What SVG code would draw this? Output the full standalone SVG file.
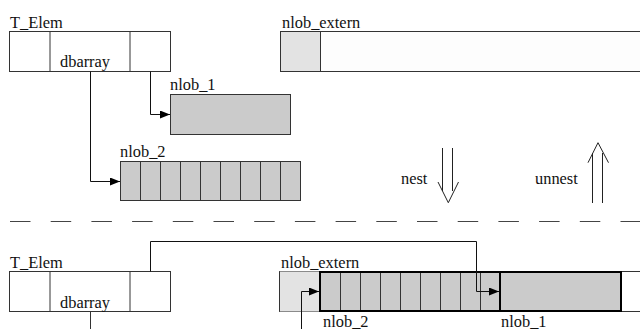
<svg xmlns="http://www.w3.org/2000/svg" width="640" height="329" viewBox="0 0 640 329">
<defs>
<style>
.box{stroke:#333;stroke-width:1;fill:#fff}
.lt{stroke:#333;stroke-width:1;fill:#e3e3e3}
.gr{stroke:#333;stroke-width:1;fill:#cbcbcb}
.thick{stroke:#000;stroke-width:2;fill:none}
.ln{stroke:#333;stroke-width:1;fill:none}
.conn{stroke:#111;stroke-width:1;fill:none;marker-end:url(#ah)}
.big{stroke:#222;stroke-width:1;fill:none}
</style>
<marker id="ah" markerWidth="10" markerHeight="8" refX="10" refY="4" orient="auto" markerUnits="userSpaceOnUse">
<path d="M0,0 L10,4 L0,8 Z" fill="#000"/>
</marker>
</defs>
<g font-family="'Liberation Serif', 'Times New Roman', serif" font-size="16.4" fill="#111">

<g id="top-telem">
<rect class="box" x="9.5" y="31.5" width="161" height="40"/>
<line class="ln" x1="50" y1="31.5" x2="50" y2="71.5"/>
<line class="ln" x1="130" y1="31.5" x2="130" y2="71.5"/>
<text x="10" y="28">T_Elem</text>
<text x="60" y="67">dbarray</text>
</g>

<g id="top-nlob-extern">
<rect class="box" x="280.5" y="31.5" width="400" height="40" style="fill:#fdfdfd"/>
<rect class="lt" x="280.5" y="31.5" width="40" height="40"/>
<text x="282" y="28">nlob_extern</text>
</g>

<g id="top-nlob1">
<rect class="gr" x="170.5" y="94.5" width="120" height="40"/>
<text x="170" y="90">nlob_1</text>
</g>

<g id="top-nlob2">
<rect class="gr" x="120.5" y="161.5" width="180" height="39"/>
<path class="ln" d="M140.5,161.5V200.5M160.5,161.5V200.5M180.5,161.5V200.5M200.5,161.5V200.5M220.5,161.5V200.5M240.5,161.5V200.5M260.5,161.5V200.5M280.5,161.5V200.5"/>
<text x="120" y="157">nlob_2</text>
</g>

<g id="nest">
<text x="401" y="184">nest</text>
<path class="big" d="M442.5,148V191M452.5,148V191M438,182L448.3,202.7L458.5,182"/>
</g>

<g id="unnest">
<text x="535" y="184">unnest</text>
<path class="big" d="M592.5,203V153M602.5,203V153M588,162.7L598,142.7L608.5,162.7"/>
</g>

<g id="separator">
<line x1="10" y1="221.5" x2="640" y2="221.5" stroke="#444" stroke-width="1.2" stroke-dasharray="20.5 20.2"/>
</g>

<g id="bottom-telem">
<rect class="box" x="9.5" y="271.5" width="161" height="40"/>
<line class="ln" x1="50" y1="271.5" x2="50" y2="311.5"/>
<line class="ln" x1="130" y1="271.5" x2="130" y2="311.5"/>
<text x="10" y="268">T_Elem</text>
<text x="60" y="307.5">dbarray</text>
</g>

<g id="bottom-nlob-extern">
<rect class="box" x="279.5" y="271.5" width="400" height="40"/>
<rect class="lt" x="279.5" y="271.5" width="41" height="40" style="stroke:none"/>
<line class="ln" x1="279.5" y1="271.5" x2="279.5" y2="311.5"/>
<text x="281" y="268">nlob_extern</text>
</g>

<g id="bottom-nlob2">
<rect x="320" y="272" width="180" height="39" fill="#cbcbcb"/>
<path class="ln" d="M340.5,272V311M360.5,272V311M380.5,272V311M400.5,272V311M420.5,272V311M440.5,272V311M460.5,272V311M480.5,272V311"/>
<rect class="thick" x="320" y="272" width="180" height="39"/>
<text x="323" y="327">nlob_2</text>
</g>

<g id="bottom-nlob1">
<rect x="500" y="272" width="121" height="39" fill="#cbcbcb"/>
<rect class="thick" x="500" y="272" width="121" height="39"/>
<text x="501" y="327">nlob_1</text>
</g>

<g id="connectors">
<path class="conn" d="M150.5,71.5V114.5H170"/>
<path class="conn" d="M90.5,71.5V181.5H120"/>
<path class="conn" d="M150.5,271.5V241.5H476.5V291.5H499"/>
<path class="ln" d="M90.5,311.5V329"/>
<path class="conn" d="M301.5,329V291.5H319"/>
</g>
</g>
</svg>
